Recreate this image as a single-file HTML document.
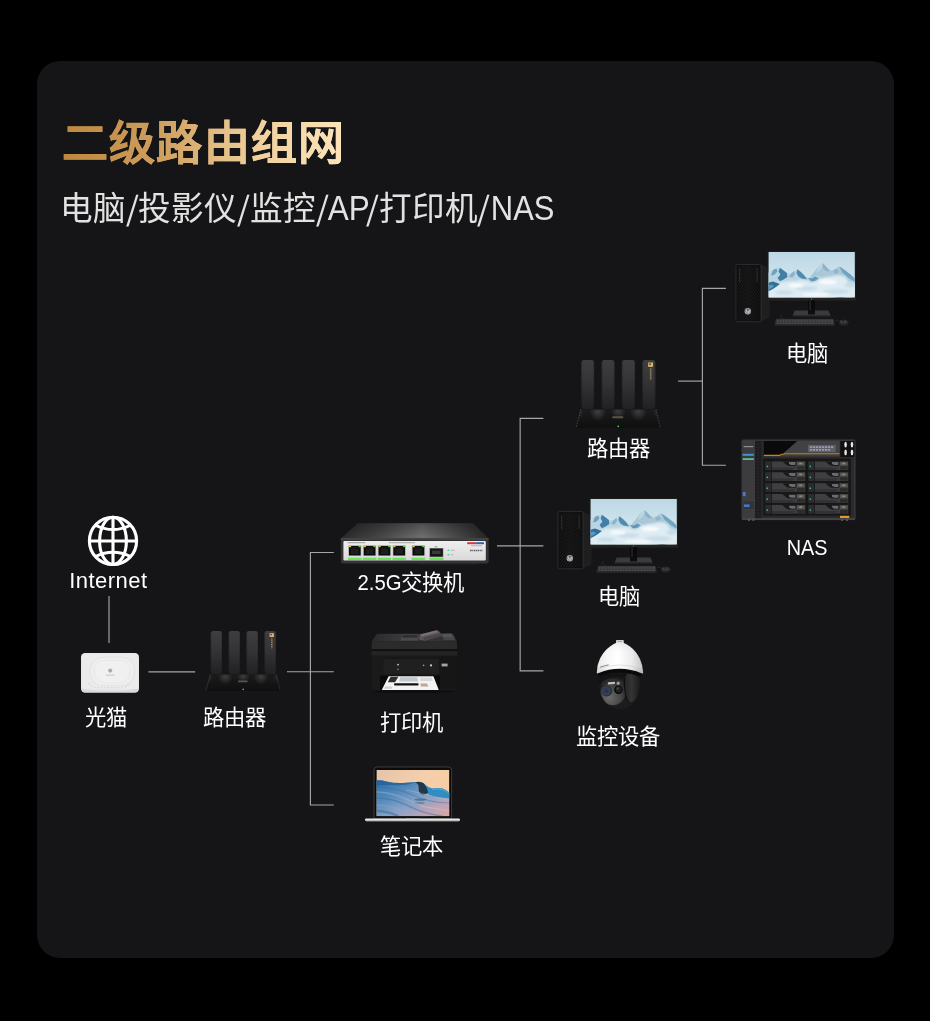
<!DOCTYPE html>
<html lang="zh-CN">
<head>
<meta charset="utf-8">
<title>二级路由组网</title>
<style>
*{margin:0;padding:0;box-sizing:border-box}
html,body{width:930px;height:1021px;background:#000;overflow:hidden}
body{position:relative;font-family:"Liberation Sans",sans-serif;color:#fff}
.card{position:absolute;left:36.7px;top:61px;width:857.3px;height:897px;border-radius:23px;background:#151517}
h1{position:absolute;left:61.7px;top:108.5px;font-size:46px;letter-spacing:1.3px;line-height:68px;font-weight:bold;white-space:nowrap;
   background:linear-gradient(90deg,#bd873d 0%,#cf9f5e 35%,#efcf9c 68%,#fbe5ba 100%);-webkit-background-clip:text;background-clip:text;color:transparent;-webkit-text-fill-color:transparent;-webkit-text-stroke:.4px transparent;width:283px}
h2{position:absolute;left:59.6px;top:185px;font-size:32.6px;line-height:46px;font-weight:normal;white-space:nowrap;color:#e2e2e2;opacity:.999}
h2 i{font-style:normal;display:inline-block;font-size:1.32em;line-height:0;width:.297em;text-align:center;position:relative;top:.13em;transform:skewX(-7.5deg) scaleX(.68)}
h2 b,.lb b{font-weight:normal;display:inline-block;transform-origin:0 50%;text-align:left}
.lb{position:absolute;font-size:21.3px;line-height:30px;height:30px;white-space:nowrap;color:#fff;transform:translateX(-50%);text-align:center;opacity:.999}
svg.art{position:absolute;left:0;top:0;width:930px;height:1021px}
</style>
</head>
<body>
<div class="card"></div>
<h1>二级路由组网</h1>
<h2>电脑<i>/</i>投影仪<i>/</i>监控<i>/</i><b style="width:40.5px;font-size:35px;transform:translateX(-1.3px) scaleX(.9)">AP</b><i style="margin-left:-3px">/</i>打印机<i style="margin-left:-1.2px">/</i><b style="width:62.8px;font-size:35px;transform:translateX(.8px) scaleX(.885)">NAS</b></h2>

<svg class="art" viewBox="0 0 930 1021">
<defs>
<linearGradient id="ant" x1="0" y1="0" x2="0" y2="1"><stop offset="0" stop-color="#3e3e40"/><stop offset=".45" stop-color="#343436"/><stop offset="1" stop-color="#212123"/></linearGradient>
<linearGradient id="antS" x1="0" y1="0" x2="1" y2="0"><stop offset="0" stop-color="#000" stop-opacity=".2"/><stop offset=".14" stop-color="#000" stop-opacity="0"/><stop offset=".88" stop-color="#000" stop-opacity="0"/><stop offset="1" stop-color="#000" stop-opacity=".22"/></linearGradient>
<linearGradient id="rbase" x1="0" y1="0" x2="0" y2="1"><stop offset="0" stop-color="#1b1b1c"/><stop offset="1" stop-color="#0f0f10"/></linearGradient>
<radialGradient id="glow" cx=".5" cy=".5" r=".5"><stop offset="0" stop-color="#4a4a4c" stop-opacity=".75"/><stop offset="1" stop-color="#4a4a4c" stop-opacity="0"/></radialGradient>
<filter id="b05" x="-20%" y="-20%" width="140%" height="140%"><feGaussianBlur stdDeviation=".5"/></filter>
<filter id="b1" x="-20%" y="-20%" width="140%" height="140%"><feGaussianBlur stdDeviation="1"/></filter>
<filter id="b2" x="-30%" y="-30%" width="160%" height="160%"><feGaussianBlur stdDeviation="2"/></filter>
<!-- router: local box 74 x 60 -->
<g id="router">
  <g>
    <rect x="4.6" y="0" width="11.4" height="43.2" rx="2.6" fill="url(#ant)"/><rect x="4.6" y="0" width="11.4" height="43.2" rx="2.6" fill="url(#antS)"/>
    <rect x="22.6" y="0" width="11.4" height="43.2" rx="2.6" fill="url(#ant)"/><rect x="22.6" y="0" width="11.4" height="43.2" rx="2.6" fill="url(#antS)"/>
    <rect x="40.4" y="0" width="11.6" height="43.2" rx="2.6" fill="url(#ant)"/><rect x="40.4" y="0" width="11.6" height="43.2" rx="2.6" fill="url(#antS)"/>
    <rect x="58.4" y="0" width="11.6" height="43.2" rx="2.6" fill="url(#ant)"/><rect x="58.4" y="0" width="11.6" height="43.2" rx="2.6" fill="url(#antS)"/>
  </g>
  <path d="M4.2 43.6H70.6L74 59.4Q74 60 73 60H1Q0 60 .2 59.2Z" fill="url(#rbase)"/>
  <clipPath id="rbc"><path d="M4.2 43.6H70.6L74 59.4Q74 60 73 60H1Q0 60 .2 59.2Z"/></clipPath>
  <g clip-path="url(#rbc)"><ellipse cx="19.3" cy="45.6" rx="7.4" ry="8" fill="url(#glow)"/><ellipse cx="37.2" cy="45" rx="6.4" ry="6.6" fill="url(#glow)"/><ellipse cx="55" cy="45.6" rx="7.4" ry="8" fill="url(#glow)"/><ellipse cx="2" cy="46" rx="5" ry="6" fill="url(#glow)" opacity=".6"/><ellipse cx="72.4" cy="46" rx="5" ry="6" fill="url(#glow)" opacity=".6"/></g>
  <path d="M4.2 43.6L.2 59.2" stroke="#5a5a5c" stroke-width=".6" stroke-dasharray="1.4 1" fill="none"/>
  <path d="M70.6 43.6L74 59.4" stroke="#4c4c4e" stroke-width=".6" stroke-dasharray="1.4 1" fill="none"/>
  <rect x="32" y="49.6" width="9.6" height="1.7" rx=".5" fill="#5a5446"/>
  <circle cx="37.2" cy="58.4" r=".8" fill="#3fd24a"/>
  <rect x="63.6" y="2.2" width="4.2" height="3.8" fill="#dcb978"/>
  <rect x="64.4" y="3" width="1.6" height="1.4" fill="#5a4a2a"/>
  <path d="M65.8 7.4V17.2" stroke="#a88c55" stroke-width="1.5" stroke-dasharray="1.1 .7" fill="none"/>
</g>
<linearGradient id="swTop" x1="0" y1="0" x2="1" y2="0"><stop offset="0" stop-color="#2b2b2b"/><stop offset=".28" stop-color="#4a4a4a"/><stop offset=".55" stop-color="#727272"/><stop offset=".8" stop-color="#474747"/><stop offset="1" stop-color="#262626"/></linearGradient>
<linearGradient id="swTopV" x1="0" y1="0" x2="0" y2="1"><stop offset="0" stop-color="#000" stop-opacity=".32"/><stop offset="1" stop-color="#000" stop-opacity="0"/></linearGradient>
<linearGradient id="swPanel" x1="0" y1="0" x2="0" y2="1"><stop offset="0" stop-color="#efefef"/><stop offset="1" stop-color="#d9d9d9"/></linearGradient>
<g id="rj"><rect x="0" y="0" width="13.6" height="11" rx=".8" fill="#c9c9c9"/><rect x=".9" y=".9" width="11.8" height="9.6" fill="#0d0d0d"/><rect x="3" y="3.4" width="7.6" height="5.6" fill="#1d1d1d"/><rect x="4.4" y="1.8" width="4.8" height="1.8" fill="#171717"/><rect x=".9" y=".9" width="2.2" height="1.3" fill="#e6d23c"/><rect x="10.5" y=".9" width="2.2" height="1.3" fill="#5ad23c"/><rect x="0" y="12.7" width="13.6" height="2.3" fill="#69e655"/></g>
<linearGradient id="sky" x1="0" y1="0" x2="0" y2="1"><stop offset="0" stop-color="#bcd8e5"/><stop offset=".5" stop-color="#cde2eb"/><stop offset="1" stop-color="#dcebf2"/></linearGradient>
<linearGradient id="twr" x1="0" y1="0" x2="1" y2="0"><stop offset="0" stop-color="#0c0c0d"/><stop offset=".5" stop-color="#111112"/><stop offset="1" stop-color="#0b0b0c"/></linearGradient>
<pattern id="hatch" width="2.2" height="2.2" patternUnits="userSpaceOnUse" patternTransform="rotate(-52)"><rect width="2.2" height=".6" fill="#232325"/></pattern>
<clipPath id="scr"><rect x="32.6" y="1" width="86.2" height="45.4"/></clipPath>
<!-- pc: local origin = tower-left / monitor-top ; box 120 x 76 -->
<g id="pc">
  <!-- tower -->
  <path d="M25 13.6L33.6 17.4V66.6L25 70.8Z" fill="#1f1f20"/>
  <path d="M0 15Q0 13.6 1.4 13.6H25V70.8H1.4Q0 70.8 0 69.4Z" fill="url(#twr)"/>
  <rect x="1.2" y="15" width="22.6" height="54.4" fill="url(#hatch)" opacity=".85"/>
  <rect x="0" y="13.6" width="25" height="57.2" rx="1.2" fill="none" stroke="#38383a" stroke-width=".7"/>
  <rect x="3.2" y="17.2" width="1" height="14" fill="#2f2f31"/><rect x="20.6" y="17.2" width="1" height="14" fill="#2f2f31"/>
  <circle cx="11.8" cy="60.2" r="3.2" fill="#a9a9ab"/><circle cx="11.8" cy="60.2" r="2.4" fill="#5e5e60"/><path d="M10.6 58.4L10 62M10.2 60.4Q11.2 59.4 11.6 60.4L11.3 62M13 58.8L12.4 62.6M13 59.6Q14.4 59.4 13.9 60.8Q13.4 61.6 12.6 61.2" stroke="#f2f2f2" stroke-width=".55" fill="none"/>
  <!-- monitor -->
  <rect x="31.4" y="-.2" width="88.6" height="49.8" rx=".8" fill="#1c1c1d"/>
  <rect x="31.4" y="46.2" width="88.6" height="3.4" fill="#222223"/>
  <rect x="32.6" y="1" width="86.2" height="45.4" fill="url(#sky)"/>
  <g clip-path="url(#scr)">
    <!-- far range -->
    <path d="M74 26L78 21L82.4 15.6L86.6 12L89 14.4L91.4 17L95.6 19.8L99.6 17.4L103.3 15.4L106.6 17.6L109.6 19.8L115.2 24L119.2 28.2V34H74Z" fill="#aac7d7" filter="url(#b05)"/>
    <path d="M86.6 12L89 14.4L91.4 17L94 20.6L90 20L87.4 17.4Z" fill="#8db1c7" filter="url(#b05)"/>
    <path d="M82.4 15.6L86.6 12L86 16L83.6 19.6L80 22Z" fill="#bdd5e1" filter="url(#b05)"/>
    <path d="M103.3 15.4L106.6 17.6L109.6 19.8L115.2 24L119.2 28.2V31L112 26.6L106.4 21.6Z" fill="#6fa4c3" filter="url(#b05)"/>
    <path d="M97 20L100.6 18L103 20.6L99.6 23.4Z" fill="#8fb5ca" filter="url(#b05)"/>
    <!-- near range -->
    <path d="M30 22.4L36.9 19.1L40.4 17.6L43.9 16.8L47 19L50.9 21.9L55.1 22.4L58.4 20L61.4 18.2L64.9 21L68 24L70.5 26L76 27.4L81 24.6L85.9 27.4L88 30V36H30Z" fill="#bad4e1" filter="url(#b05)"/>
    <path d="M43.9 16.8L47 19L50.9 21.9L51.4 26L47.6 28.6L43.9 30.2L41.6 27L44.4 23.6L42.6 20.6Z" fill="#3f80a6" filter="url(#b05)"/>
    <path d="M36.9 19.1L40.4 17.6L41.4 20.4L38.6 23.4L35 24.6Z" fill="#6da1c0" filter="url(#b05)"/>
    <path d="M61.4 18.2L64.9 21L68 24L71.2 28.6L66 27.8L62.4 25.4L60.4 22Z" fill="#4d8bb0" filter="url(#b05)"/>
    <path d="M55.1 22.4L58.4 20L59 23.6L56.4 26.6L53 26Z" fill="#8ab3cb" filter="url(#b05)"/>
    <path d="M72 27L76 27.4L79.6 25.4L83 27.4L80 30L75 30.4Z" fill="#5b95b8" filter="url(#b05)"/>
    <!-- clouds -->
    <g filter="url(#b1)" fill="#deecf3">
      <ellipse cx="56" cy="39" rx="20" ry="9"/><ellipse cx="96" cy="35.4" rx="19" ry="10"/><ellipse cx="76" cy="41" rx="30" ry="9.4"/><ellipse cx="113" cy="39.4" rx="11" ry="8"/><ellipse cx="42" cy="43" rx="14" ry="6"/>
      <ellipse cx="102" cy="28.6" rx="9" ry="4.4"/><ellipse cx="66" cy="32.6" rx="8" ry="3.6"/>
    </g>
    <path d="M30 33.4L33.4 31.6L36.9 30.6L40.4 31.8L43.9 33L40.6 35.6L36.9 37.9L33 40L30 41Z" fill="#2f7096" filter="url(#b05)"/>
    <path d="M30 35L36 33.4L38 35.6L33 38.4Z" fill="#5e98ba" filter="url(#b05)"/>
    <g filter="url(#b1)" fill="#c3d9e5" opacity=".8"><ellipse cx="70" cy="37.4" rx="11" ry="2.2"/><ellipse cx="100" cy="40.6" rx="13" ry="2.4"/><ellipse cx="48" cy="41.6" rx="9" ry="2"/><ellipse cx="114" cy="34" rx="5" ry="3"/></g><g filter="url(#b1)" fill="#f7fbfc"><ellipse cx="92" cy="31" rx="9" ry="2.6"/><ellipse cx="60" cy="34.6" rx="8" ry="2"/><ellipse cx="80" cy="43.6" rx="14" ry="1.6"/></g>
  </g>
  <circle cx="75.4" cy="47.9" r=".5" fill="#9a9a9a"/>
  <!-- stand -->
  <rect x="72" y="49.4" width="7" height="10.6" fill="#0a0a0b"/><rect x="73.4" y="49.4" width="1.4" height="10" fill="#29292b"/>
  <path d="M58.6 59.6H92.4L94.6 64.6Q94.8 65.6 93.6 65.6H57.4Q56.4 65.6 56.8 64.6Z" fill="#3b3b3d"/>
  <rect x="72" y="59" width="7" height="4.4" fill="#0d0d0e"/>
  <path d="M57 64.4H94.4V65.6H57Z" fill="#1a1a1b"/>
  <path d="M46 63Q42 66.6 48 68" stroke="#2f2f31" stroke-width=".7" fill="none"/>
  <!-- keyboard + mouse -->
  <path d="M40 67.8H97.4L98.8 73.6Q98.9 74.8 97.8 74.8H39.2Q38 74.8 38.4 73.6Z" fill="#2a2a2c"/>
  <rect x="40.6" y="68.6" width="56.6" height="4.2" fill="#5c5c5e" opacity=".8"/>
  <path d="M40.6 70H97.2M40.6 71.4H97.2" stroke="#2a2a2c" stroke-width=".5"/>
  <path d="M43 68.6V72.8M46 68.6V72.8M49 68.6V72.8M52 68.6V72.8M55 68.6V72.8M58 68.6V72.8M61 68.6V72.8M64 68.6V72.8M67 68.6V72.8M70 68.6V72.8M73 68.6V72.8M76 68.6V72.8M79 68.6V72.8M82 68.6V72.8M85 68.6V72.8M88 68.6V72.8M91 68.6V72.8M94 68.6V72.8" stroke="#2a2a2c" stroke-width=".6"/>
  <path d="M99 69.6Q101.6 68.2 103.4 70" stroke="#2f2f31" stroke-width=".6" fill="none"/>
  <ellipse cx="107.8" cy="71.6" rx="5" ry="3" fill="#262628"/><ellipse cx="107.4" cy="70.8" rx="3.4" ry="1.7" fill="#3d3d3f"/><rect x="106.8" y="69" width="1" height="2" fill="#151516"/>
</g>
</defs>
<!-- connectors -->
<g id="wires" fill="none" stroke="#a6a6a6" stroke-width="1.15">
  <path d="M109 595.9V643.1"/>
  <path d="M148.4 671.8H195.2"/>
  <path d="M287 671.7H333.8"/>
  <path d="M333.8 552.5H310.4V805H333.8"/>
  <path d="M497 545.9H543.4"/>
  <path d="M543.4 418.4H520.15V670.8H543.4"/>
  <path d="M678.1 381.1H702.4"/>
  <path d="M725.9 288.4H702.4V465.2H725.9"/>
</g>
<!-- globe -->
<g fill="none" stroke="#fff" stroke-width="3.1">
  <circle cx="113" cy="540.9" r="23.6"/>
  <ellipse cx="113" cy="540.9" rx="13.4" ry="23.6"/>
  <path d="M113 517.3V564.5M89.4 540.95H136.6"/>
  <path d="M95.4 525.2Q113 533.8 130.6 525.2" stroke-width="2.9"/>
  <path d="M95.4 556.6Q113 548 130.6 556.6" stroke-width="2.9"/>
</g>
<!-- modem -->
<g>
  <rect x="81" y="653" width="58" height="39.6" rx="4.2" fill="#e4e4e4"/>
  <rect x="81.6" y="653.6" width="56.8" height="36" rx="3.8" fill="#ebebeb"/>
  <rect x="90" y="657.2" width="44.5" height="28.6" rx="13" fill="#eeeeee" stroke="#e0e0e0" stroke-width=".8"/>
  <rect x="94.5" y="660.2" width="35.5" height="22.6" rx="10.5" fill="#f0f0f0" stroke="#e4e4e4" stroke-width=".6"/>
  <path d="M81.4 688.5Q110 693.8 138.6 688.5V689Q138.6 692.6 135 692.6H85Q81.4 692.6 81.4 689Z" fill="#d9d9d9"/>
  <circle cx="110.2" cy="670.6" r="2.1" fill="#a9adb3"/>
  <rect x="106" y="674.6" width="8.4" height="1" fill="#c4c6ca"/>
  <path d="M88.6 683.4Q93 688 100 687.8H122Q128 686.6 130 682.4" stroke="#c2c2c2" stroke-width="1.1" stroke-dasharray=".9 2.5" fill="none"/>
</g>
<use href="#router" x="206" y="631"/>
<use href="#router" transform="translate(576 360) scale(1.135)"/>
<!-- switch -->
<g>
  <path d="M358 523.2H473L488.6 538.4H340.8Z" fill="url(#swTop)"/>
  <path d="M358 523.2H473L488.6 538.4H340.8Z" fill="url(#swTopV)"/>
  <path d="M340.8 538.2H488.6V561.4Q488.6 563.4 486.6 563.4H342.8Q340.8 563.4 340.8 561.4Z" fill="#343434"/>
  <rect x="340.8" y="538.2" width="147.8" height="1.6" fill="#474747"/>
  <rect x="418" y="563" width="60" height="1.4" fill="#262626"/>
  <rect x="343.4" y="540.9" width="142.4" height="19.6" rx="1.2" fill="url(#swPanel)"/>
  <use href="#rj" x="348" y="545"/><use href="#rj" x="362.8" y="545"/><use href="#rj" x="377.6" y="545"/><use href="#rj" x="392.4" y="545"/>
  <use href="#rj" x="411.6" y="545"/>
  <rect x="429.4" y="548" width="14" height="9.2" fill="#8a8a8a"/><rect x="430" y="548.6" width="12.8" height="8" fill="#151515"/><rect x="432" y="550.6" width="8.6" height="3.4" fill="#3a3a3a"/>
  <rect x="429.4" y="557.7" width="14" height="2.3" fill="#69e655"/>
  <rect x="434.4" y="546.4" width="3" height=".9" fill="#8d8d8d"/>
  <rect x="347.6" y="542.2" width="17.6" height="1" fill="#9a9a9a"/><rect x="389" y="542.2" width="26" height="1" fill="#a4a4a4"/>
  <rect x="447.6" y="549.6" width="1.5" height="1.4" fill="#46c7a0"/><rect x="447.6" y="554" width="1.5" height="1.4" fill="#46c7a0"/>
  <rect x="450.6" y="549.8" width="4" height="1" fill="#b3b3b3"/><rect x="450.6" y="554.2" width="2.8" height="1" fill="#b3b3b3"/>
  <rect x="467.2" y="542.2" width="9" height="2" fill="#d9363b"/><rect x="476.2" y="542.2" width="7.8" height="2" fill="#2d63b8"/>
  <rect x="471" y="545.4" width="11" height=".8" fill="#8fa9d6"/>
  <path d="M470 550.4H482.4" stroke="#5a5a5a" stroke-width="1.5" stroke-dasharray="1.6 .7 .9 .6"/>
</g>
<!-- printer -->
<g>
  <defs><linearGradient id="ptop" x1="0" y1="0" x2="1" y2="0"><stop offset="0" stop-color="#2a2a2b"/><stop offset=".35" stop-color="#39393a"/><stop offset="1" stop-color="#303031"/></linearGradient></defs>
  <!-- top face -->
  <path d="M371.8 641.4L376.4 634.6Q377 633.8 378.2 633.8H452Q453.2 633.8 453.8 634.8L456.8 641.4Z" fill="url(#ptop)"/>
  <path d="M400.4 640.4L402.4 634.6H418.6L417.6 640.4Z" fill="#4a4a4b"/>
  <path d="M402.2 637.4L403 635.2H417.4L416.8 637.4Z" fill="#2b2b2c"/>
  <path d="M418.4 639.2L420 634.4L436.2 630.2Q437.6 629.9 438.6 630.8L442.4 635.8L424.4 640.8Z" fill="#5b5558"/>
  <path d="M420.4 634.6L436.4 630.6L438 632.2L421.6 636.6Z" fill="#7a7276"/>
  <path d="M423 638L440 633.6L441.8 635.8L424.6 640.2Z" fill="#4a4648"/>
  <path d="M440.6 633.4L451.6 633.2L455.4 640H444Z" fill="#474748"/>
  <path d="M442 634.2L450.8 634L452.6 637H443.4Z" fill="#555556"/>
  <!-- front -->
  <path d="M371.8 641.2H456.8L457.2 649.6H371.6Z" fill="#2b2b2c"/>
  <rect x="371.6" y="649.4" width="85.6" height="1.5" fill="#0d0d0e"/>
  <rect x="371.6" y="650.9" width="85.6" height="5" fill="#242425"/>
  <path d="M371.6 655.6H457.2V686Q457.2 690 453 690H376Q371.8 690 371.8 686Z" fill="#1a1a1b"/>
  <rect x="383.4" y="657.6" width="55.4" height="16.2" rx="1" fill="#202021"/>
  <rect x="383.4" y="657.6" width="55.4" height="1" fill="#121213"/>
  <rect x="439.6" y="656" width="17.4" height="33" fill="#161617"/>
  <circle cx="398" cy="664.6" r=".95" fill="#c4c4c4"/><circle cx="398" cy="669.2" r=".8" fill="#8c8c8c"/>
  <circle cx="423.6" cy="665.4" r=".8" fill="#9a9a9a"/><circle cx="431" cy="665.4" r="1.05" fill="#cfcfcf"/>
  <rect x="441.6" y="663.6" width="6" height="2.8" fill="#a3a3a4"/>
  <path d="M380 675.6H440V690H380Z" fill="#0a0a0b"/>
  <path d="M388.6 676.2H433.4L438.8 689.9H381.8Z" fill="#f3f3f3"/>
  <path d="M390.6 676.8H398.4L395 682.2H387.8Z" fill="#2e2e2e"/>
  <path d="M400 677.2H417.4L418 681.4H399.2Z" fill="#c2c7cc"/>
  <path d="M420 677.6H431.6L432.8 681H420.4Z" fill="#d7dadd"/>
  <rect x="394" y="683.2" width="24.6" height="2.4" rx="1" fill="#111"/>
  <path d="M420.4 683.4H427L428.4 686.6H421Z" fill="#c4a58f"/>
  <path d="M385 686.6H392.4L391.8 688.8H384Z" fill="#cdd1d5"/>
  <ellipse cx="414" cy="691.6" rx="40" ry="1.4" fill="#0b0b0c" opacity=".8"/>
</g>
<!-- laptop -->
<g>
  <path d="M374 770.2Q374 767 377.2 767H448.4Q451.6 767 451.6 770.2V818.4H374Z" fill="#0b0b0c" stroke="#5a5a5c" stroke-width=".6"/>
  <svg x="376.4" y="770" width="73" height="46.2" viewBox="0 0 73 46.2" preserveAspectRatio="none">
    <defs>
      <linearGradient id="lsky" x1="0" y1="0" x2="1" y2=".5"><stop offset="0" stop-color="#e6c3a7"/><stop offset=".55" stop-color="#f4cfad"/><stop offset="1" stop-color="#f8cc9f"/></linearGradient>
      <linearGradient id="lsea" x1="0" y1="0" x2="1" y2="1"><stop offset="0" stop-color="#2c70aa"/><stop offset=".3" stop-color="#5288b9"/><stop offset=".55" stop-color="#84a1c6"/><stop offset=".8" stop-color="#bfa4b7"/><stop offset="1" stop-color="#d6a8a2"/></linearGradient>
    </defs>
    <rect width="73" height="46.2" fill="url(#lsky)"/>
    <path d="M0 10.2Q6 10 10 11.4Q18 13.4 26 13Q34 12.4 40 12Q45 11.6 48 14Q52 18 56 18.4Q62 17.6 66 18.6Q70 20 73 22.4V46.2H0Z" fill="url(#lsea)"/>
    <path d="M0 10.2Q6 10 10 11.4Q18 13.4 26 13Q34 12.4 40 12Q30 16 16 15Q6 14.6 0 16Z" fill="#22609a" opacity=".75" filter="url(#b05)"/>
    <path d="M47 13.4Q52 18 56 18.4Q62 17.6 66 18.6Q70 20 73 22.4V28.4Q64 27.6 56 26.4Q50.6 25 49.6 20Q49 16 47 13.4Z" fill="#2e8dc3"/>
    <path d="M56 19.4Q62 18.6 66 19.6Q70 21 73 23.4" stroke="#79bfe0" stroke-width=".8" fill="none" opacity=".7" filter="url(#b05)"/>
    <path d="M38.6 12.2Q44.6 11 47.6 13.6Q50.6 17.4 51.8 22.6Q48.4 25.4 44.2 24Q41.6 21 42.2 17Q42.4 13.8 38.6 12.2Z" fill="#24374a" filter="url(#b05)"/>
    <ellipse cx="44" cy="29.6" rx="6" ry="1.1" fill="#2f4f74" opacity=".55" filter="url(#b05)"/>
    <ellipse cx="43" cy="33" rx="5" ry="1" fill="#3a5c84" opacity=".45" filter="url(#b05)"/>
    <g fill="none" filter="url(#b05)">
      <path d="M0 17Q18 17 36 25T73 33" stroke="#2a68a2" stroke-width="1.2" opacity=".4"/>
      <path d="M0 22Q16 22 34 31T73 40" stroke="#9db6d6" stroke-width="1.4" opacity=".45"/>
      <path d="M0 28Q16 28 32 36T66 46" stroke="#2f679f" stroke-width="1.6" opacity=".4"/>
      <path d="M0 35Q14 35 28 41T50 46" stroke="#8fa9cc" stroke-width="1.4" opacity=".4"/>
      <path d="M30 20Q48 24 73 30" stroke="#b7c3da" stroke-width="1" opacity=".4"/>
      <path d="M44 36Q58 38 73 41" stroke="#e3b3a6" stroke-width="1.6" opacity=".55"/>
      <path d="M0 41Q10 41 22 46" stroke="#3a689c" stroke-width="2.4" opacity=".5"/>
    </g>
  </svg>
  <rect x="365" y="818.4" width="95" height="2.6" rx="1.2" fill="#e9e9e9"/>
  <rect x="366" y="820.4" width="93" height="1.2" rx=".6" fill="#8d8d8d"/>
  <rect x="406" y="818.4" width="13" height=".9" fill="#bdbdbd"/>
</g>
<use href="#pc" x="736" y="251"/>
<use href="#pc" x="558" y="498"/>
<!-- camera -->
<g>
  <defs>
    <linearGradient id="dome" x1="0" y1="0" x2="1" y2="0"><stop offset="0" stop-color="#e6e6e6"/><stop offset=".22" stop-color="#f7f7f7"/><stop offset=".45" stop-color="#ffffff"/><stop offset=".75" stop-color="#ececec"/><stop offset="1" stop-color="#c2c2c2"/></linearGradient>
    <linearGradient id="domeV" x1="0" y1="0" x2="0" y2="1"><stop offset="0" stop-color="#000" stop-opacity=".06"/><stop offset=".3" stop-color="#000" stop-opacity="0"/><stop offset=".8" stop-color="#000" stop-opacity="0"/><stop offset="1" stop-color="#000" stop-opacity=".12"/></linearGradient>
    <radialGradient id="ball" cx=".35" cy=".7" r=".75"><stop offset="0" stop-color="#6b6b6c"/><stop offset=".55" stop-color="#4a4a4b"/><stop offset="1" stop-color="#262627"/></radialGradient>
    <linearGradient id="yoke" x1="0" y1="0" x2="1" y2="0"><stop offset="0" stop-color="#242425"/><stop offset=".45" stop-color="#343435"/><stop offset="1" stop-color="#1a1a1b"/></linearGradient>
    <radialGradient id="lens" cx=".45" cy=".5" r=".55"><stop offset="0" stop-color="#45477a"/><stop offset=".4" stop-color="#2f3452"/><stop offset=".75" stop-color="#3a464f"/><stop offset="1" stop-color="#23282c"/></radialGradient>
    <clipPath id="camb"><path d="M599.4 673.6Q597.6 682 600.6 693.6Q603.6 702 609.4 706.2Q615 709.4 620.6 709.3Q627 709 632.4 704.2Q637.6 698.6 639.4 690Q641 681 640 673.6Z"/></clipPath>
  </defs>
  <rect x="616" y="640" width="7.8" height="3.4" rx="1" fill="#dcdcdc"/>
  <rect x="617.4" y="640.8" width="5" height="1" fill="#a2a2a2"/>
  <!-- body -->
  <path d="M599.4 673.6Q597.6 682 600.6 693.6Q603.6 702 609.4 706.2Q615 709.4 620.6 709.3Q627 709 632.4 704.2Q637.6 698.6 639.4 690Q641 681 640 673.6Z" fill="#1c1c1d"/>
  <g clip-path="url(#camb)">
    <circle cx="613" cy="692.6" r="12.6" fill="url(#ball)"/>
    <path d="M598 672H642V678Q630 676.4 624.6 678.4Q620 677 613 677.4Q605 678 601.6 682.6L598 686Z" fill="#131314"/>
    <path d="M602 682.8Q605.6 678.6 612.6 678.4Q620 678.4 623.4 682L623.8 686.4Q617 682.6 609.6 683.4Q604.6 684.2 601.6 688Z" fill="#2b2b2c"/>
    <path d="M627.2 673L624.6 678.2Q624 686 625.4 694.6Q626.6 699.6 629 702.2Q633 702 635.6 700Q638.6 695 639.4 689Q640.6 681 640 674Z" fill="url(#yoke)"/>
    <path d="M624.6 678.2Q624 686 625.4 694.6Q626.6 699.6 629 702.2" stroke="#0f0f10" stroke-width="1" fill="none"/>
  </g>
  <rect x="607.8" y="682" width="7.2" height="2.2" rx=".4" fill="#bdbdbd" transform="rotate(-5 611 683)"/>
  <circle cx="618.2" cy="683.3" r="1.7" fill="#8a8a8b"/><circle cx="618.4" cy="683.2" r=".8" fill="#b5b5b6"/>
  <circle cx="606.6" cy="690.9" r="5.6" fill="#2c3036"/><circle cx="606.6" cy="690.9" r="4.8" fill="url(#lens)"/><circle cx="606.6" cy="690.9" r="1.3" fill="#2a2d52"/>
  <circle cx="618.4" cy="689.8" r="4.3" fill="#0c0c0d"/><circle cx="618.6" cy="689.4" r="3" fill="#222223"/><circle cx="617.6" cy="688.4" r="1.1" fill="#4c4c4e"/>
  <!-- shade under rim -->
  <path d="M597.4 672.6Q598 675.2 599.6 676.6Q620 668.4 640 677Q642 675.2 642.6 672.6Q620 663.6 597.4 672.6Z" fill="#0a0a0b"/>
  <!-- dome -->
  <path d="M596.8 672.4Q597 664.6 600 658.6Q604 650.6 610 646.4Q613.4 644 616.4 642.8H623.2Q626.4 644 630 646.6Q636 651 640 659Q642.8 665 643.2 672.6Q643.3 674 642 673.4Q620 664.4 598 673.2Q596.8 673.8 596.8 672.4Z" fill="url(#dome)"/>
  <path d="M596.8 672.4Q597 664.6 600 658.6Q604 650.6 610 646.4Q613.4 644 616.4 642.8H623.2Q626.4 644 630 646.6Q636 651 640 659Q642.8 665 643.2 672.6Q643.3 674 642 673.4Q620 664.4 598 673.2Q596.8 673.8 596.8 672.4Z" fill="url(#domeV)"/>
  <path d="M597.2 669.4Q620 660.4 642.8 669.6" stroke="#bdbdbd" stroke-width=".6" fill="none" opacity=".7"/>
  <path d="M599.8 667.2L608.6 664.8" stroke="#8f8f8f" stroke-width="1.1" fill="none"/>
</g>
<!-- nas -->
<g>
  <defs>
    <g id="bay"><rect x="0" y="0" width="41.6" height="10" fill="#1b1b1c"/><rect x=".8" y=".7" width="6" height="8.6" rx=".6" fill="#2c2c2e"/><rect x="2.2" y="5" width="1.3" height="1.5" fill="#2fd08c"/><path d="M7.6 .7H40.8V9.3H7.6Z" fill="#3f3f41"/><path d="M18 .7H32V4.4Q32 5.2 31 5.2H25Q22.4 5.2 21 3.4Z" fill="#19191a"/><path d="M24.6 1.4H31V4.4H27.4Q25.6 4.4 24.6 2.8Z" fill="#6b6b6d"/><rect x="32.6" y="1.2" width="7.6" height="3.4" fill="#57564f"/><rect x="34.8" y="2" width="3" height="1.6" fill="#8d8a78"/><rect x="32.6" y="5.6" width="7.6" height="3.2" fill="#2c2c2e"/><path d="M7.6 6.8H31L28 9.3H7.6Z" fill="#323234"/></g>
  </defs>
  <rect x="742" y="440" width="113" height="79.6" rx="1.2" fill="#2a2a2c"/>
  <rect x="742" y="440" width="113" height="79.6" rx="1.2" fill="none" stroke="#4a4a4c" stroke-width=".8"/>
  <rect x="742.4" y="440.4" width="12.8" height="78.8" fill="#3c3c3e"/>
  <rect x="755.2" y="441" width="6" height="77.6" fill="#1a1a1b"/>
  <path d="M755.2 444H761.2M755.2 447H761.2M755.2 450H761.2M755.2 453H761.2M755.2 456H761.2M755.2 459H761.2M755.2 462H761.2M755.2 465H761.2M755.2 468H761.2M755.2 471H761.2M755.2 474H761.2M755.2 477H761.2M755.2 480H761.2M755.2 483H761.2M755.2 486H761.2M755.2 489H761.2M755.2 492H761.2M755.2 495H761.2M755.2 498H761.2M755.2 501H761.2M755.2 504H761.2M755.2 507H761.2M755.2 510H761.2M755.2 513H761.2M755.2 516H761.2" stroke="#2c2c2e" stroke-width=".8"/>
  <path d="M758.2 441V518.6" stroke="#2c2c2e" stroke-width=".6"/>
  <rect x="743.6" y="446" width="9.6" height="1.2" fill="#8e8e90"/>
  <rect x="742.6" y="453.8" width="11.2" height="2" fill="#4592d0"/>
  <rect x="742.6" y="458.2" width="11.2" height="1.8" fill="#52c294"/>
  <rect x="742.8" y="492" width="2.8" height="4.2" fill="#4a78d6"/>
  <rect x="743" y="500.6" width="11.6" height="9" rx=".6" fill="#343436" stroke="#4a4a4c" stroke-width=".5"/>
  <rect x="744" y="504.4" width="5.6" height="2.6" fill="#3f7ad0"/>
  <!-- top strip -->
  <rect x="763.6" y="441" width="76" height="15.6" fill="#3d3d3f"/>
  <path d="M763.6 441H797.6L781.6 455H763.6Z" fill="#0a0a0b"/>
  <path d="M797.6 441H839.6V453H783.8Z" fill="#424244"/>
  <rect x="808" y="445" width="27.6" height="7.2" fill="#5f6068"/>
  <path d="M810 447.2H833.6M810 449.8H830" stroke="#aeb0bd" stroke-width="1.3" stroke-dasharray="2.2 .8"/>
  <path d="M764 455.4H779.6L781.4 454.2H783.4L785.2 453.8H839.6" stroke="#c98216" stroke-width="1.1" fill="none"/>
  <rect x="840.4" y="441" width="14" height="16" fill="#101011"/>
  <ellipse cx="845.6" cy="444.6" rx="1.3" ry="2.8" fill="#e6e6e6"/><ellipse cx="852" cy="444.6" rx="1.3" ry="2.8" fill="#e6e6e6"/>
  <ellipse cx="845.6" cy="452.4" rx="1.3" ry="2.8" fill="#e6e6e6"/><ellipse cx="852" cy="452.4" rx="1.3" ry="2.8" fill="#e6e6e6"/>
  <!-- bays -->
  <rect x="763.2" y="458.6" width="87.6" height="57" fill="#161617"/>
  <use href="#bay" x="764.4" y="460.7"/><use href="#bay" x="807.4" y="460.7"/>
  <use href="#bay" x="764.4" y="471.6"/><use href="#bay" x="807.4" y="471.6"/>
  <use href="#bay" x="764.4" y="482.5"/><use href="#bay" x="807.4" y="482.5"/>
  <use href="#bay" x="764.4" y="493.4"/><use href="#bay" x="807.4" y="493.4"/>
  <use href="#bay" x="764.4" y="504.3"/><use href="#bay" x="807.4" y="504.3"/>
  <rect x="840" y="515.8" width="9.2" height="2.2" fill="#e09a2a"/>
  <rect x="742" y="518.2" width="113" height="1.4" fill="#4a4a4c"/>
  <rect x="748" y="519.6" width="2" height="1" fill="#777"/><rect x="752.4" y="519.6" width="2" height="1" fill="#777"/><rect x="841" y="519.6" width="2" height="1" fill="#777"/><rect x="846" y="519.6" width="2" height="1" fill="#777"/>
</g>

</svg>

<div class="lb" style="left:108.4px;top:566px;font-size:22px;letter-spacing:.45px">Internet</div>
<div class="lb" style="left:106px;top:703px">光猫</div>
<div class="lb" style="left:234.6px;top:703px">路由器</div>
<div class="lb" style="left:410.9px;top:568px"><b style="width:44px;font-size:22.6px;transform:scaleX(.9)">2.5G</b>交换机</div>
<div class="lb" style="left:411px;top:708px">打印机</div>
<div class="lb" style="left:411px;top:832px">笔记本</div>
<div class="lb" style="left:618.2px;top:434px">路由器</div>
<div class="lb" style="left:619px;top:582px">电脑</div>
<div class="lb" style="left:618.2px;top:722px">监控设备</div>
<div class="lb" style="left:807.4px;top:339px">电脑</div>
<div class="lb" style="left:807.2px;top:532px"><b style="width:40.6px;font-size:22.8px;transform:scaleX(.87)">NAS</b></div>
</body>
</html>
